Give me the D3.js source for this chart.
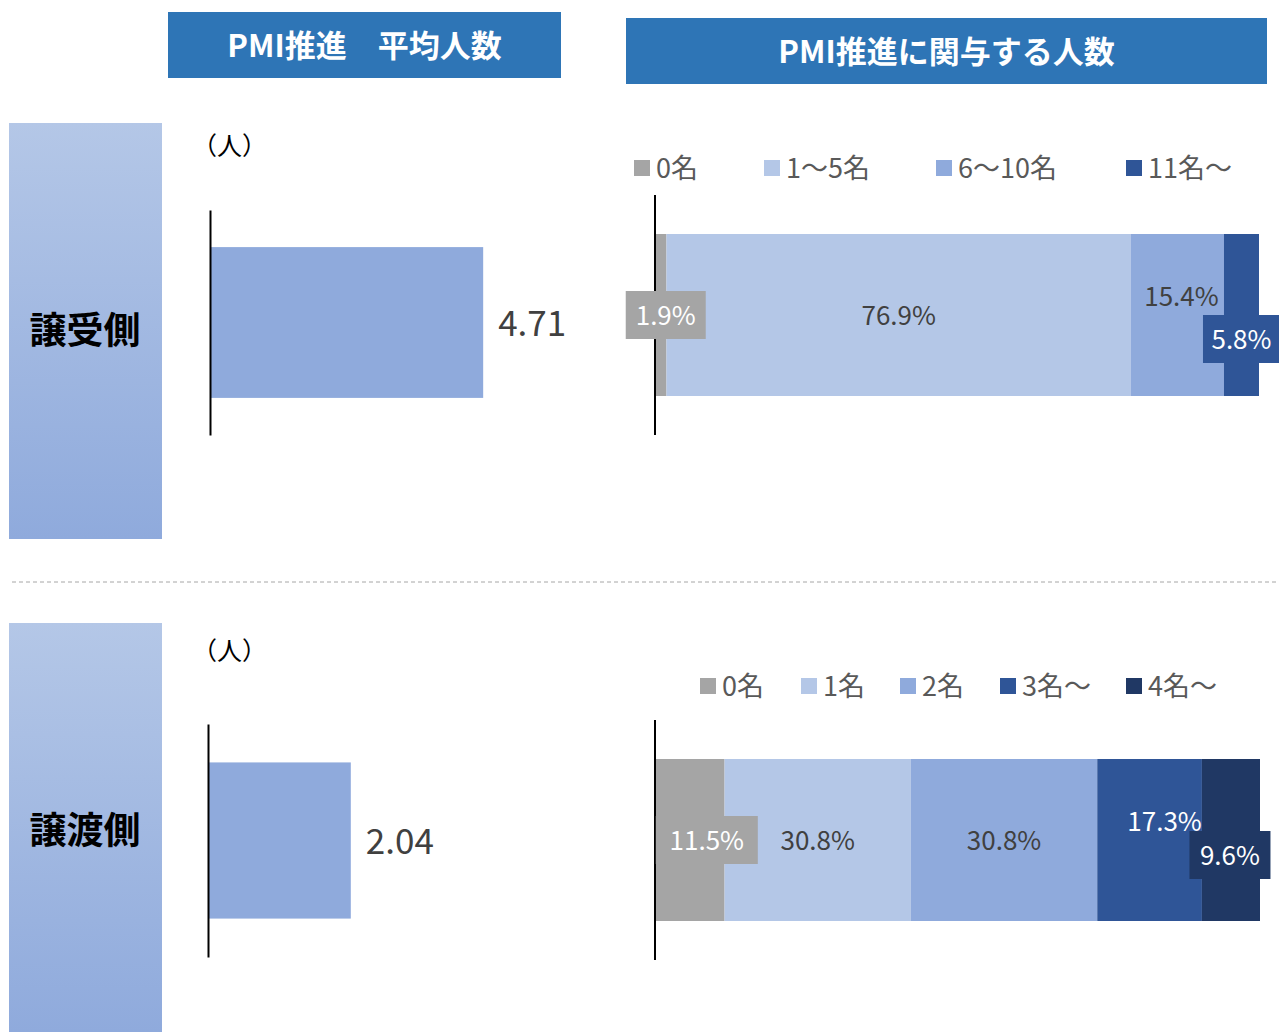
<!DOCTYPE html>
<html>
<head>
<meta charset="utf-8">
<script src="https://cdn.jsdelivr.net/npm/d3@7"></script>
<style>
  body { margin: 0; background: #fff; }
  svg text { font-family: "Noto Sans CJK JP", "Noto Sans", sans-serif; }
</style>
</head>
<body>
<div id="chart"></div>
<script>
// ---- data ----
const headers = ["PMI推進\u3000平均人数", "PMI推進に関与する人数"];
const sides = ["譲受側", "譲渡側"];
const unitLabel = "（人）";

// average number of people
const avgValues = [4.71, 2.04];

// top: buyer side distribution
const buyerCats = ["0名", "1～5名", "6～10名", "11名～"];
const buyerPct = [1.9, 76.9, 15.4, 5.8];

// bottom: seller side distribution
const sellerCats = ["0名", "1名", "2名", "3名～", "4名～"];
const sellerPct = [11.5, 30.8, 30.8, 17.3, 9.6];

const colors = ["#A5A5A5", "#B4C7E7", "#8FAADC", "#2F5597", "#203864"];
const darkText = "#404040";
const textShift = -2; // CJK font sits a bit low with "central"

const W = 1279, H = 1032;
const svg = d3.select("#chart").append("svg")
  .attr("width", W).attr("height", H);

// gradient for side panels
const grad = svg.append("defs").append("linearGradient")
  .attr("id", "sideGrad").attr("x1", 0).attr("y1", 0).attr("x2", 0).attr("y2", 1);
grad.append("stop").attr("offset", "0%").attr("stop-color", "#B4C7E7");
grad.append("stop").attr("offset", "100%").attr("stop-color", "#8FAADC");

// header boxes
const headerBoxes = [{x: 168, y: 12, w: 393, h: 66}, {x: 626, y: 18, w: 641, h: 66}];
headerBoxes.forEach((b, i) => {
  svg.append("rect").attr("x", b.x).attr("y", b.y).attr("width", b.w).attr("height", b.h)
    .attr("fill", "#2E75B6");
  svg.append("text").attr("x", b.x + b.w / 2).attr("y", b.y + b.h / 2 + textShift)
    .attr("text-anchor", "middle").attr("dominant-baseline", "central")
    .attr("fill", "#fff").attr("font-size", 31).attr("font-weight", "bold")
    .text(headers[i]);
});

// side panels
const sidePanels = [{y: 123, h: 416}, {y: 623, h: 409}];
sidePanels.forEach((p, i) => {
  svg.append("rect").attr("x", 9).attr("y", p.y).attr("width", 153).attr("height", p.h)
    .attr("fill", "url(#sideGrad)");
  svg.append("text").attr("x", 85).attr("y", p.y + 207 + textShift)
    .attr("text-anchor", "middle").attr("dominant-baseline", "central")
    .attr("fill", "#000").attr("font-size", 37).attr("font-weight", "bold")
    .text(sides[i]);
});

// dashed separator
svg.append("line").attr("x1", 12).attr("x2", 1279).attr("y1", 582).attr("y2", 582)
  .attr("stroke", "#A6A6A6").attr("stroke-width", 1).attr("stroke-dasharray", "4,3");

// ---- average bar charts ----
const avgLayout = [
  {x0: 210, bandTop: 210, bandBottom: 435, unitY: 146, pxPerUnit: 58},
  {x0: 208, bandTop: 724, bandBottom: 957, unitY: 651, pxPerUnit: 70}
];
avgValues.forEach((v, i) => {
  const L = avgLayout[i];
  const x = d3.scaleLinear().domain([0, 1]).range([L.x0, L.x0 + L.pxPerUnit]);
  const y = d3.scaleBand().domain([sides[i]]).range([L.bandTop, L.bandBottom]).paddingOuter(0.246);
  const g = svg.append("g");
  g.append("rect").attr("x", x(0)).attr("y", y(sides[i]))
    .attr("width", x(v) - x(0)).attr("height", y.bandwidth())
    .attr("fill", "#8FAADC");
  g.append("text").attr("x", x(v) + 15).attr("y", y(sides[i]) + y.bandwidth() / 2 + textShift)
    .attr("dominant-baseline", "central").attr("fill", darkText).attr("font-size", 35)
    .text(v.toFixed(2));
  const ax = g.append("g").attr("transform", `translate(${L.x0},0)`)
    .call(d3.axisLeft(y).tickSize(0).tickFormat(""));
  ax.select(".domain").attr("stroke", "#000").attr("stroke-width", 2);
  svg.append("text").attr("x", 192).attr("y", L.unitY + textShift)
    .attr("dominant-baseline", "central").attr("fill", "#000").attr("font-size", 25)
    .text(unitLabel);
});

// ---- stacked 100% bars ----
function stacked(cats, pct, L) {
  const x = d3.scaleLinear().domain([0, 100]).range([L.x0, L.x1]);
  const y = d3.scaleBand().domain(["row"]).range([L.bandTop, L.bandBottom]).paddingOuter(0.247);
  const row = {};
  cats.forEach((c, i) => row[c] = pct[i]);
  const series = d3.stack().keys(cats)([row]);
  const g = svg.append("g");

  g.selectAll(".seg").data(series).join("rect").attr("class", "seg")
    .attr("x", d => x(d[0][0])).attr("y", y("row"))
    .attr("width", d => x(d[0][1]) - x(d[0][0])).attr("height", y.bandwidth())
    .attr("fill", (d, i) => colors[i]);

  const ax = g.append("g").attr("transform", `translate(${L.x0},0)`)
    .call(d3.axisLeft(y).tickSize(0).tickFormat(""));
  ax.select(".domain").attr("stroke", "#000").attr("stroke-width", 2);
  ax.select(".domain").attr("d", `M0,${L.axisTop}V${L.axisBottom}`);

  const cy = y("row") + y.bandwidth() / 2;
  series.forEach((d, i) => {
    const o = L.labels[i];
    const lx = (x(d[0][0]) + x(d[0][1])) / 2 + o.dx;
    const ly = cy + o.dy;
    const txt = pct[i].toFixed(1) + "%";
    if (o.box) {
      g.append("rect").attr("x", lx - o.box / 2).attr("y", ly - 24)
        .attr("width", o.box).attr("height", 48).attr("fill", colors[i]);
    }
    g.append("text").attr("x", lx).attr("y", ly + textShift)
      .attr("text-anchor", "middle").attr("dominant-baseline", "central")
      .attr("font-size", 26).attr("fill", o.white ? "#fff" : darkText)
      .text(txt);
  });

  // legend
  const lg = svg.append("g").selectAll("g").data(cats).join("g")
    .attr("transform", (c, i) => `translate(${L.legendX[i]},${L.legendY})`);
  lg.append("rect").attr("x", 0).attr("y", -8).attr("width", 16).attr("height", 16)
    .attr("fill", (c, i) => colors[i]);
  lg.append("text").attr("x", 22).attr("y", textShift).attr("dominant-baseline", "central")
    .attr("font-size", 27).attr("fill", "#595959").text(c => c);
}

stacked(buyerCats, buyerPct, {
  x0: 655, x1: 1259, bandTop: 194, bandBottom: 436, axisTop: 195, axisBottom: 435,
  legendY: 168, legendX: [634, 764, 936, 1126],
  labels: [
    {dx: 5, dy: 0, box: 80, white: true},
    {dx: 0, dy: 0},
    {dx: 4, dy: -19},
    {dx: 0, dy: 24, box: 77, white: true}
  ]
});

stacked(sellerCats, sellerPct, {
  x0: 655, x1: 1260, bandTop: 719, bandBottom: 961, axisTop: 720, axisBottom: 960,
  legendY: 686, legendX: [700, 801, 900, 1000, 1126],
  labels: [
    {dx: 17, dy: 0, box: 102, white: true},
    {dx: 0, dy: 0},
    {dx: 0, dy: 0},
    {dx: 15, dy: -19, white: true},
    {dx: -1, dy: 15, box: 81, white: true}
  ]
});
</script>
</body>
</html>
